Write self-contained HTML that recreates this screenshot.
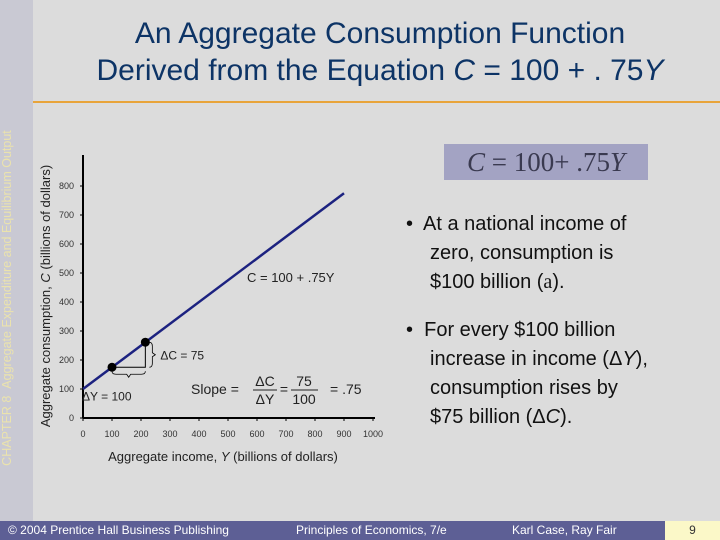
<!DOCTYPE html>
<html><head><meta charset="utf-8"><style>
body{margin:0;width:720px;height:540px;overflow:hidden;background:#dcdcdc;font-family:"Liberation Sans",sans-serif;position:relative}
.abs{position:absolute}
</style></head><body>
<div class="abs" style="left:0;top:0;width:33px;height:521px;background:#c9c9d3"></div>
<div class="abs" style="left:-202px;top:290px;width:420px;height:16px;transform:rotate(-90deg);color:#ebe3ad;font-size:12.5px;text-align:center;white-space:nowrap">CHAPTER 8 &nbsp;Aggregate Expenditure and Equilibrium Output</div>
<div class="abs" style="left:40px;top:15px;width:680px;text-align:center;color:#0d3466;font-size:30px;line-height:37px">An Aggregate Consumption Function<br>Derived from the Equation <i>C</i> = 100 + . 75<i>Y</i></div>
<div class="abs" style="left:33px;top:101px;width:687px;height:2px;background:#e8a43a"></div>
<div class="abs" style="left:444px;top:144px;width:204px;height:36px;background:#a3a3c3;font-family:'Liberation Serif',serif;font-size:27px;color:#3a3a50;line-height:36px;text-align:center"><i>C</i> = 100+ .75<i>Y</i></div>
<div class="abs" style="left:406px;top:210px;width:300px;font-size:20px;line-height:29px;color:#111">•&nbsp; At a national income of<br><span style="padding-left:24px">zero, consumption is</span><br><span style="padding-left:24px">$100 billion (<span style="font-family:'Liberation Serif',serif">a</span>).</span></div>
<div class="abs" style="left:406px;top:316px;width:310px;font-size:20px;line-height:29px;color:#111">•&nbsp; For every $100 billion<br><span style="padding-left:24px">increase in income (Δ<i>Y</i>),</span><br><span style="padding-left:24px">consumption rises by</span><br><span style="padding-left:24px">$75 billion (Δ<i>C</i>).</span></div>
<svg class="abs" style="left:0;top:0" width="720" height="540" id="chart"></svg>
<div class="abs" style="left:0;top:521px;width:720px;height:19px;background:#5d5f95;color:#fff;font-size:12px;line-height:19px">
<span class="abs" style="left:8px">© 2004 Prentice Hall Business Publishing</span>
<span class="abs" style="left:296px">Principles of Economics, 7/e</span>
<span class="abs" style="left:512px">Karl Case, Ray Fair</span>
<span class="abs" style="left:665px;width:55px;height:19px;background:#fbf8c8;color:#333;text-align:center">9</span>
</div>
<script>
const xTicks=[0,100,200,300,400,500,600,700,800,900,1000];
const yTicks=[0,100,200,300,400,500,600,700,800];
const intercept=[100];
const slope=[0.75];
const lineRange=[0,900];
const pointsY=[100,215];
const NS="http://www.w3.org/2000/svg";
const svg=document.getElementById('chart');
const X=v=>83+v*0.29, Y=v=>418-v*0.29;
const C=v=>intercept[0]+slope[0]*v;
function mk(t,a,txt){const e=document.createElementNS(NS,t);for(const k in a)e.setAttribute(k,a[k]);if(txt!=null)e.textContent=txt;svg.appendChild(e);return e;}
let e;
e=mk('line',{x1:X(0),y1:Y(0),x2:X(1000)+2,y2:Y(0),stroke:'#000','stroke-width':2});

e=mk('line',{x1:X(0),y1:Y(0),x2:X(0),y2:155,stroke:'#000','stroke-width':2});

xTicks.forEach(v=>{mk('line',{x1:X(v),y1:Y(0),x2:X(v),y2:Y(0)+3,stroke:'#000'});
e=mk('text',{x:X(v),y:Y(0)+19,'font-size':9,'text-anchor':'middle',fill:'#333'},v);
});
yTicks.forEach(v=>{mk('line',{x1:X(0)-3,y1:Y(v),x2:X(0),y2:Y(v),stroke:'#000'});
e=mk('text',{x:X(0)-9,y:Y(v)+3,'font-size':9,'text-anchor':'end',fill:'#333'},v);
});
e=mk('text',{x:X(500)-5,y:461,'font-size':13,'text-anchor':'middle',fill:'#222'});
e.innerHTML='Aggregate income, <tspan font-style="italic">Y</tspan> (billions of dollars)';

e=mk('text',{x:0,y:0,'font-size':13,'text-anchor':'middle',fill:'#222',transform:'translate(50,296) rotate(-90)'});
e.innerHTML='Aggregate consumption, <tspan font-style="italic">C</tspan> (billions of dollars)';

e=mk('line',{x1:X(lineRange[0]),y1:Y(C(lineRange[0])),x2:X(lineRange[1]),y2:Y(C(lineRange[1])),stroke:'#1c2280','stroke-width':2.5});

const [p1,p2]=pointsY;
e=mk('polyline',{points:`${X(p1)},${Y(C(p1))} ${X(p2)},${Y(C(p1))} ${X(p2)},${Y(C(p2))}`,fill:'none',stroke:'#000','stroke-width':1});

pointsY.forEach(v=>{e=mk('circle',{cx:X(v),cy:Y(C(v)),r:4.5,fill:'#000'});
});
mk('path',{d:`M${X(p1)},${Y(C(p1))+4} q0,3 4,3 h${(X(p2)-X(p1))/2-6} l2,3 l2,-3 h${(X(p2)-X(p1))/2-6} q4,0 4,-3`,fill:'none',stroke:'#000','stroke-width':0.8});
mk('path',{d:`M${X(p2)+4},${Y(C(p2))} q3,0 3,4 v${(Y(C(p1))-Y(C(p2)))/2-6} l3,2 l-3,2 v${(Y(C(p1))-Y(C(p2)))/2-6} q0,4 -3,4`,fill:'none',stroke:'#000','stroke-width':0.8});
e=mk('text',{x:X(p2)+15,y:Y((C(p1)+C(p2))/2)+5,'font-size':12,fill:'#222'},'ΔC = 75');

e=mk('text',{x:X(p1)-30,y:Y(C(p1))+33,'font-size':12,fill:'#222'},'ΔY = 100');

e=mk('text',{x:247,y:282,'font-size':13,fill:'#222'},'C = 100 + .75Y');

const g=[['Slope =',191,394,'start'],['ΔC',265,386,'middle'],['ΔY',265,404,'middle'],['=',284,394,'middle'],['75',304,386,'middle'],['100',304,404,'middle'],['= .75',330,394,'start']];
g.forEach(([t,x,y,a])=>{e=mk('text',{x,y,'font-size':14,'text-anchor':a,fill:'#222'},t);
});
mk('line',{x1:253,y1:390,x2:277,y2:390,stroke:'#222'});mk('line',{x1:291,y1:390,x2:318,y2:390,stroke:'#222'});
</script>
</body></html>
